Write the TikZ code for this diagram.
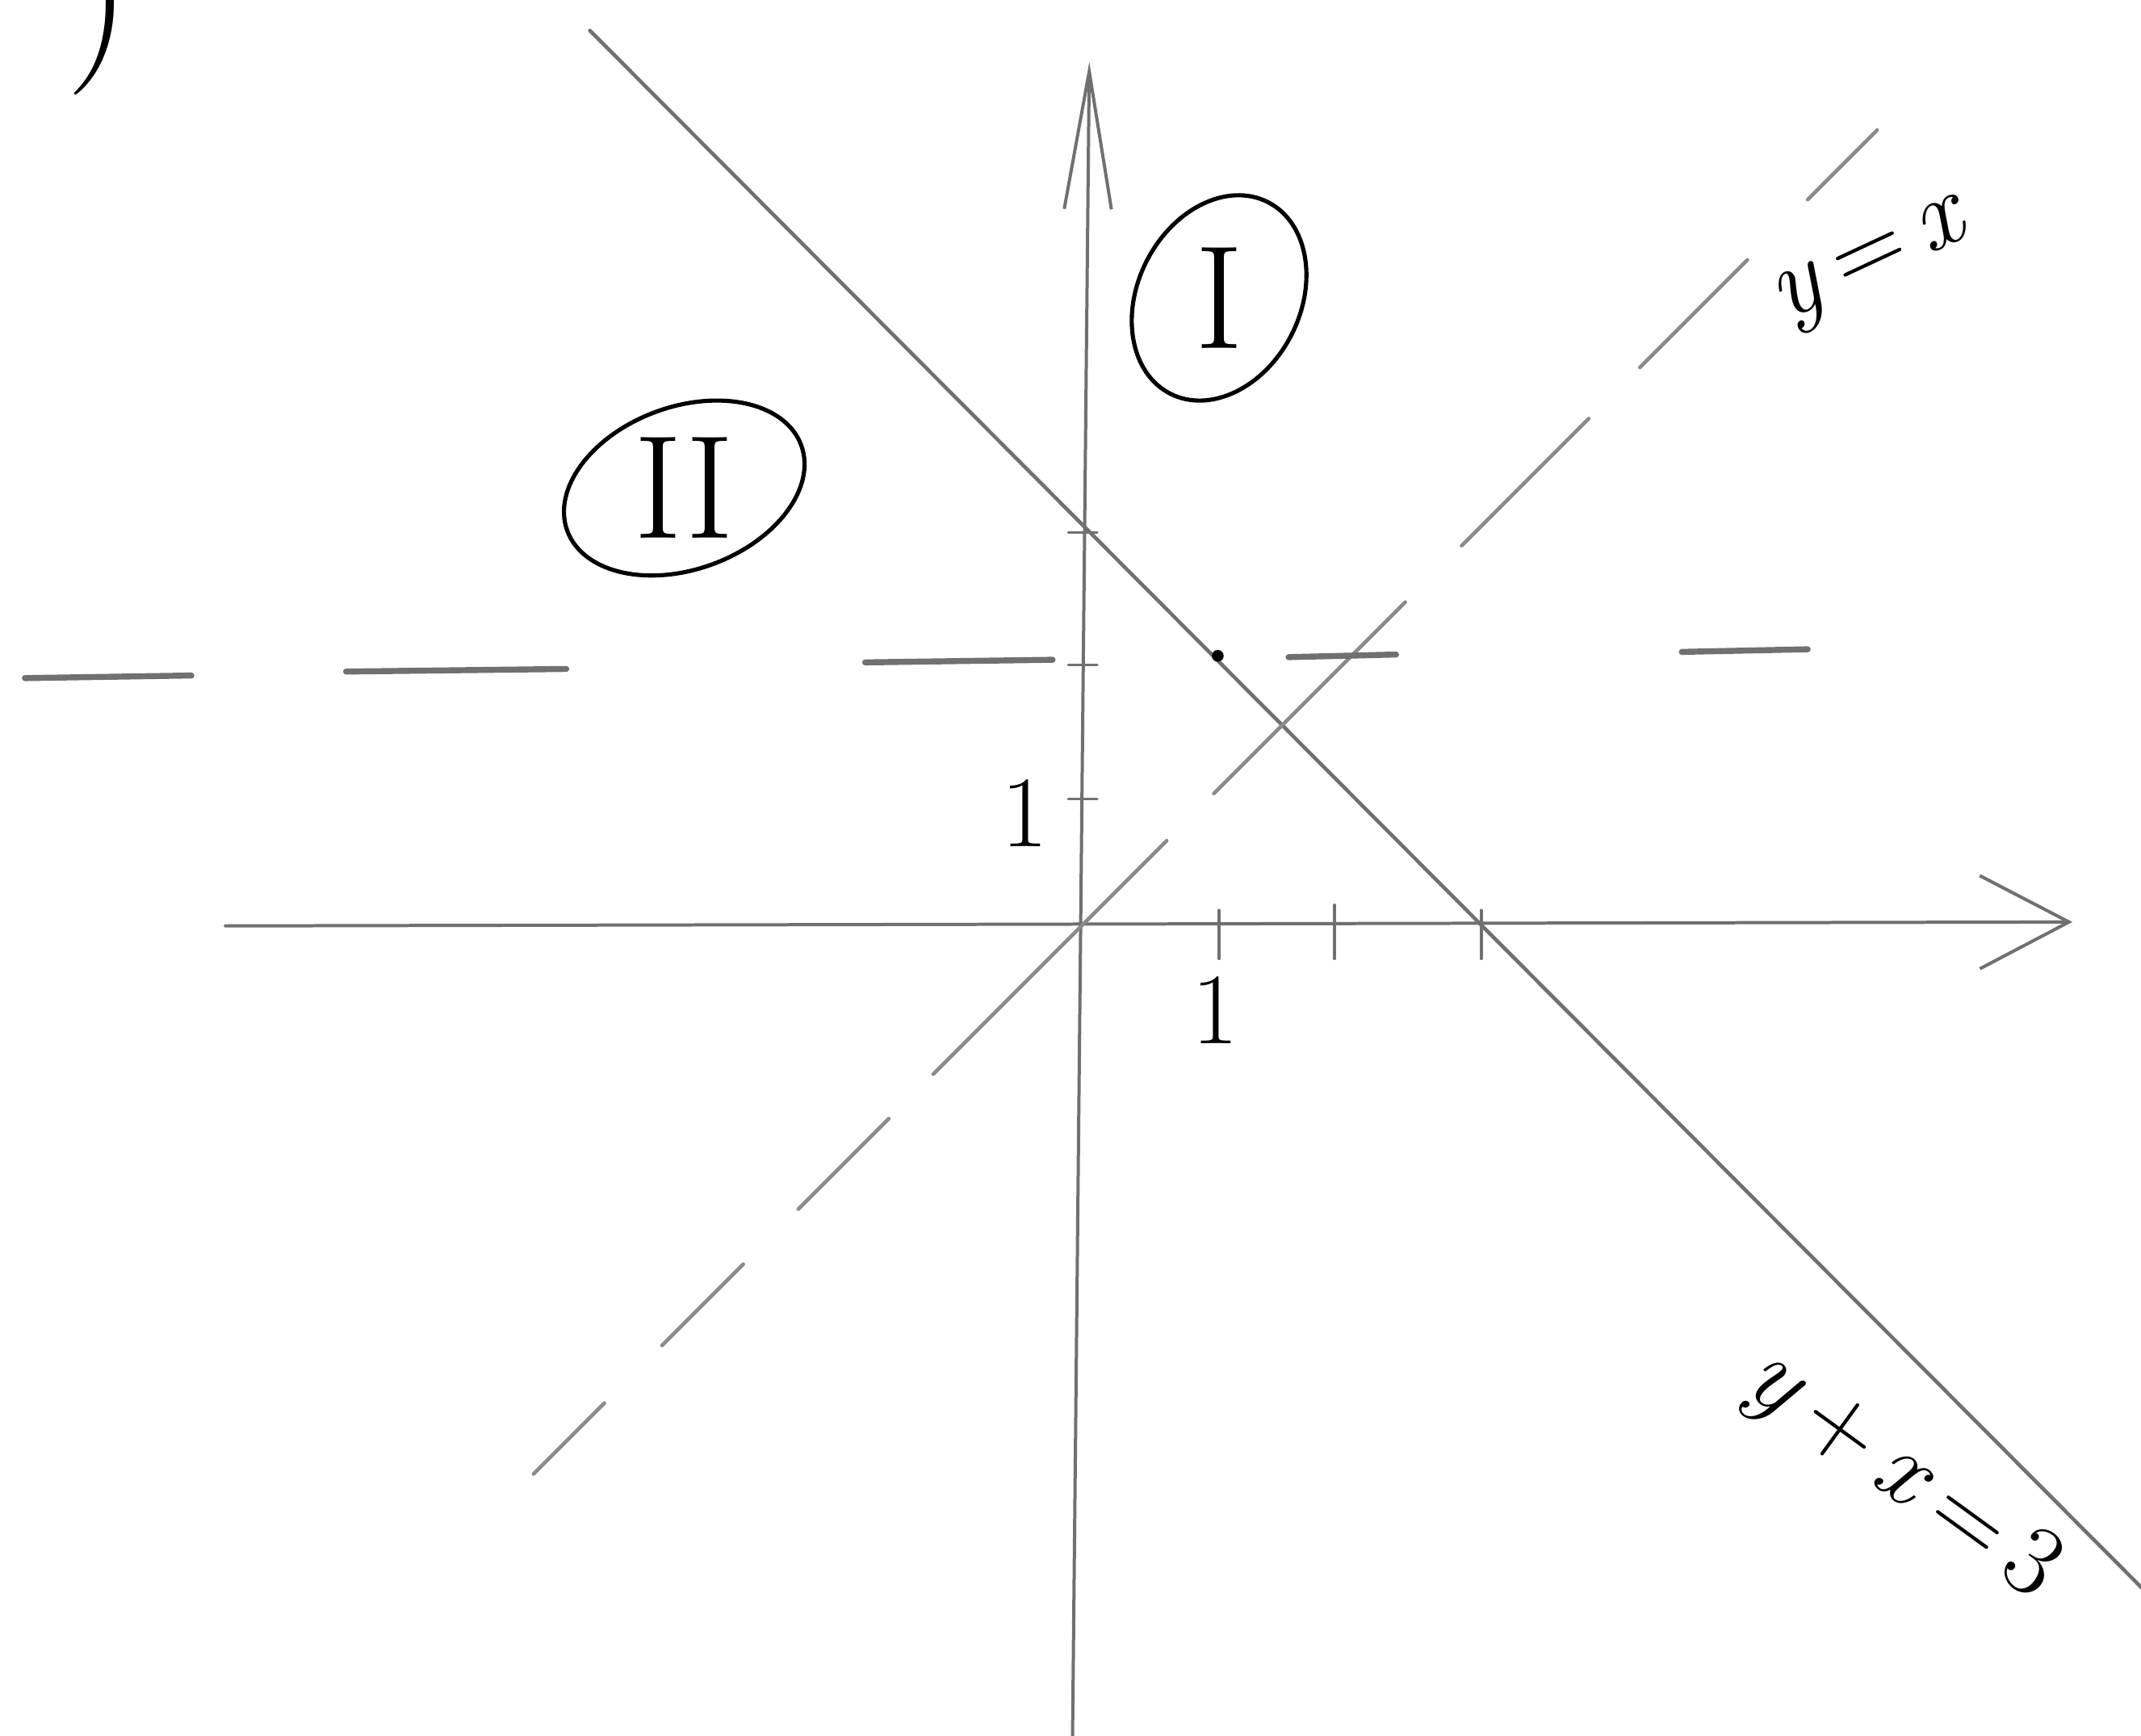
\documentclass[tikz,border=0pt]{standalone}
\usepackage{fontspec}
\usetikzlibrary{arrows.meta}
\definecolor{pencil}{RGB}{112,112,112}
\definecolor{lightpencil}{RGB}{138,138,138}
\tikzset{
    line/.style={draw=pencil, line width=0.8pt, line cap=round},
    axis/.style={line, line width=0.7pt},
    xaxis/.style={axis, -{Straight Barb[length=0.68cm, width=0.71cm]}},
    yaxis/.style={axis, -{Straight Barb[length=1.05cm, width=0.36cm]}},
    tick/.style={line, line width=0.6pt},
    diagline/.style={line, draw=lightpencil},
    levelline/.style={line, line width=1.3pt},
    hand/.style={font=\fontsize{22}{26}\selectfont, inner sep=0pt},
    numeral/.style={font=\fontsize{32}{36}\selectfont, inner sep=0pt},
    ring/.style={draw=black, line width=0.9pt},
    dot/.style={circle, fill=black, inner sep=0pt, minimum size=0.09cm},
}
\tikzset{
    graph panel/.style={line join=round},
}

\begin{document}
\begin{tikzpicture}[graph panel]
    \path[use as bounding box] (-8.25,-6.177) rectangle (8.083,7.0625);

    \coordinate (xstart) at (-6.53,0);
    \coordinate (xend) at (7.56,0.03);
    \coordinate (ystart) at (-0.07,-6.4);
    \coordinate (yend) at (0.06,6.59);
    \draw[xaxis] (xstart) -- (xend);
    \draw[yaxis] (ystart) -- (yend);

    \foreach \x/\t in {1.05/0.12, 1.93/0.16, 3.05/0.12}
        \draw[tick] (\x,\t) -- (\x,-0.25);
    \foreach \y in {0.97, 1.99, 3.0}
        \draw[tick] (-0.1,\y) -- (0.12,\y);

    \coordinate (sumstart) at (-3.75,6.83);
    \coordinate (sumend) at (8.1,-5.06);
    \draw[line] (sumstart) -- (sumend);

    \foreach \a/\b in {-4.18/-3.64, -3.20/-2.58, -2.16/-1.47, -1.13/0.65,
                       1.01/2.47, 2.90/3.87, 4.26/5.08, 5.54/6.07}
        \draw[diagline] (\a,\a) -- (\b,\b);

    \foreach \a/\b/\y in {-8.06/-6.79/1.89, -5.61/-3.93/1.94, -1.65/-0.22/2.01,
                          1.58/2.40/2.05, 4.58/5.54/2.09}
        \draw[levelline] (\a,\y) -- (\b,\y+0.02);

    \node[dot] (point) at (1.04,2.06) {};

    \node[hand] (yone) at (-0.43,0.86) {1};
    \node[hand] (xone) at (1.02,-0.64) {1};
    \node[hand, rotate=25] (diaglabel) at (6.05,5.03) {\textit{y}\,=\,\textit{x}};
    \node[hand, rotate=-36] (sumlabel) at (6.25,-4.2) {\textit{y}\,+\,\textit{x}\,=\,3};

    \node[numeral] (regionone) at (1.05,4.79) {I};
    \draw[ring, rotate around={63:(regionone)}] (regionone) ellipse (0.82 and 0.62);
    \node[numeral] (regiontwo) at (-3.03,3.34) {II};
    \draw[ring, rotate around={20:(regiontwo)}] (regiontwo) ellipse (0.95 and 0.62);

    \node[font=\fontsize{40}{44}\selectfont, inner sep=0pt, anchor=south] (part) at (-7.5,6.33) {)};
\end{tikzpicture}
\end{document}
